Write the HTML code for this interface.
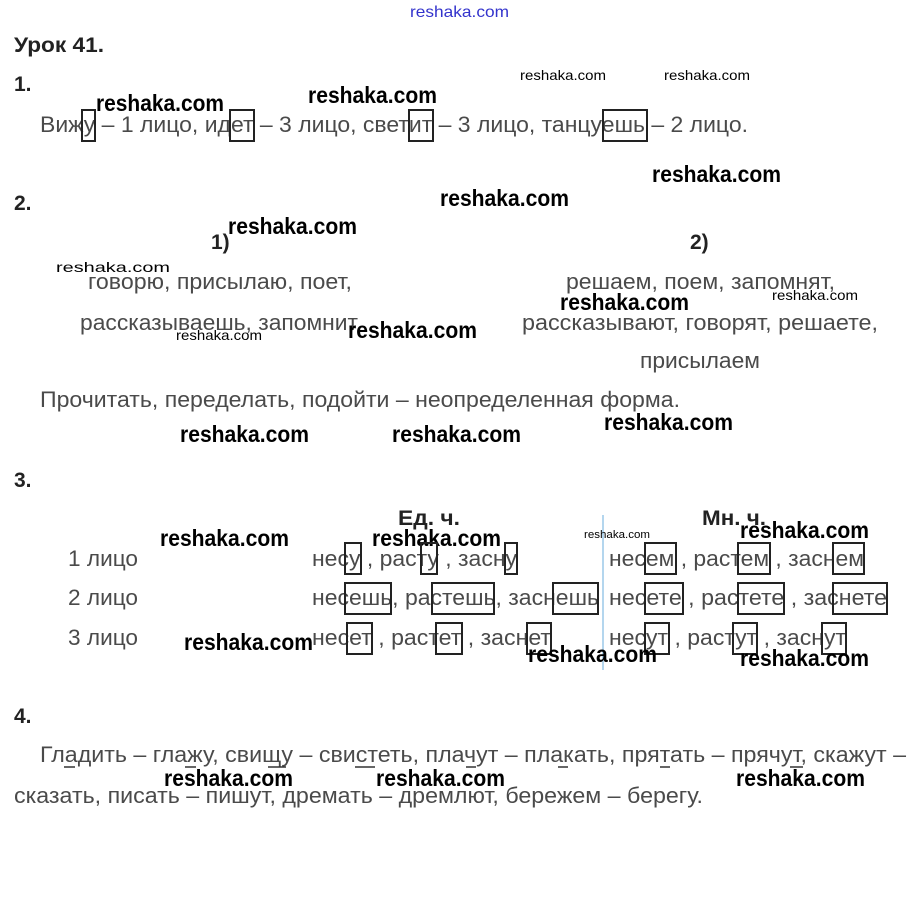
<!DOCTYPE html>
<html><head><meta charset="utf-8"><style>
html,body{margin:0;padding:0;background:#fff;}
svg{display:block;}
.t{font-family:"Liberation Sans",sans-serif;font-size:22px;fill:#4a4a4a;}
.w{font-family:"Liberation Sans",sans-serif;font-size:23px;font-weight:bold;fill:#000;}
.s{font-family:"Liberation Sans",sans-serif;font-size:14px;fill:#000;}
.h{font-family:"Liberation Sans",sans-serif;font-size:21px;font-weight:bold;fill:#222;}
rect{fill:none;stroke:#222;stroke-width:2;}
line.u{stroke:#333;stroke-width:1.5;}
</style></head><body>
<svg width="917" height="923" viewBox="0 0 917 923" xmlns="http://www.w3.org/2000/svg">
<text x="410" y="17" textLength="99" lengthAdjust="spacingAndGlyphs" style="font-family:'Liberation Sans',sans-serif;font-size:16px;fill:#3333cc">reshaka.com</text>
<text class="h" x="14" y="52" textLength="90" lengthAdjust="spacingAndGlyphs">Урок 41.</text>
<text class="h" x="14" y="91">1.</text>
<text class="s" x="520" y="80" textLength="86" lengthAdjust="spacingAndGlyphs">reshaka.com</text>
<text class="s" x="664" y="80" textLength="86" lengthAdjust="spacingAndGlyphs">reshaka.com</text>
<text class="w" x="308" y="103" textLength="129" lengthAdjust="spacingAndGlyphs">reshaka.com</text>
<text class="w" x="96" y="111" textLength="128" lengthAdjust="spacingAndGlyphs">reshaka.com</text>
<text class="t" x="40" y="132" textLength="708" lengthAdjust="spacingAndGlyphs">Вижу – 1 лицо, идет – 3 лицо, светит – 3 лицо, танцуешь – 2 лицо.</text>
<rect x="82" y="110" width="13" height="31"/><rect x="230" y="110" width="24" height="31"/><rect x="409" y="110" width="24" height="31"/><rect x="603" y="110" width="44" height="31"/>

<text class="w" x="652" y="182" textLength="129" lengthAdjust="spacingAndGlyphs">reshaka.com</text>
<text class="h" x="14" y="210">2.</text>
<text class="w" x="440" y="206" textLength="129" lengthAdjust="spacingAndGlyphs">reshaka.com</text>
<text class="w" x="228" y="234" textLength="129" lengthAdjust="spacingAndGlyphs">reshaka.com</text>
<text class="h" x="211" y="249">1)</text>
<text class="h" x="690" y="249">2)</text>
<text class="s" x="56" y="272" textLength="114" lengthAdjust="spacingAndGlyphs">reshaka.com</text>
<text class="t" x="88" y="289" textLength="264" lengthAdjust="spacingAndGlyphs">говорю, присылаю, поет,</text>
<text class="t" x="566" y="289" textLength="269" lengthAdjust="spacingAndGlyphs">решаем, поем, запомнят,</text>
<text class="s" x="772" y="300" textLength="86" lengthAdjust="spacingAndGlyphs">reshaka.com</text>
<text class="w" x="560" y="310" textLength="129" lengthAdjust="spacingAndGlyphs">reshaka.com</text>
<text class="t" x="80" y="330" textLength="278" lengthAdjust="spacingAndGlyphs">рассказываешь, запомнит</text>
<text class="t" x="522" y="330" textLength="356" lengthAdjust="spacingAndGlyphs">рассказывают, говорят, решаете,</text>
<text class="w" x="348" y="338" textLength="129" lengthAdjust="spacingAndGlyphs">reshaka.com</text>
<text class="s" x="176" y="340" textLength="86" lengthAdjust="spacingAndGlyphs">reshaka.com</text>
<text class="t" x="640" y="368" textLength="120" lengthAdjust="spacingAndGlyphs">присылаем</text>
<text class="t" x="40" y="407" textLength="640" lengthAdjust="spacingAndGlyphs">Прочитать, переделать, подойти – неопределенная форма.</text>
<text class="w" x="604" y="430" textLength="129" lengthAdjust="spacingAndGlyphs">reshaka.com</text>
<text class="w" x="180" y="442" textLength="129" lengthAdjust="spacingAndGlyphs">reshaka.com</text>
<text class="w" x="392" y="442" textLength="129" lengthAdjust="spacingAndGlyphs">reshaka.com</text>

<text class="h" x="14" y="487">3.</text>
<text class="h" x="398" y="525" textLength="62" lengthAdjust="spacingAndGlyphs">Ед. ч.</text>
<text class="h" x="702" y="525" textLength="64" lengthAdjust="spacingAndGlyphs">Мн. ч.</text>
<line x1="603" y1="515" x2="603" y2="670" stroke="#9cc8e8" stroke-width="1.5"/>
<text class="s" x="584" y="538" textLength="66" lengthAdjust="spacingAndGlyphs" style="font-size:11px">reshaka.com</text>
<text class="w" x="740" y="538" textLength="129" lengthAdjust="spacingAndGlyphs">reshaka.com</text>
<text class="w" x="160" y="546" textLength="129" lengthAdjust="spacingAndGlyphs">reshaka.com</text>
<text class="w" x="372" y="546" textLength="129" lengthAdjust="spacingAndGlyphs">reshaka.com</text>
<text class="t" x="68" y="566" textLength="70" lengthAdjust="spacingAndGlyphs">1 лицо</text>
<text class="t" x="68" y="605" textLength="70" lengthAdjust="spacingAndGlyphs">2 лицо</text>
<text class="t" x="68" y="645" textLength="70" lengthAdjust="spacingAndGlyphs">3 лицо</text>
<text class="t" x="312" y="566" textLength="205" lengthAdjust="spacingAndGlyphs">несу , расту , засну</text>
<text class="t" x="312" y="605" textLength="287" lengthAdjust="spacingAndGlyphs">несешь, растешь, заснешь</text>
<text class="t" x="312" y="645" textLength="239" lengthAdjust="spacingAndGlyphs">несет , растет , заснет</text>
<text class="t" x="609" y="566" textLength="255" lengthAdjust="spacingAndGlyphs">несем , растем , заснем</text>
<text class="t" x="609" y="605" textLength="278" lengthAdjust="spacingAndGlyphs">несете , растете , заснете</text>
<text class="t" x="609" y="645" textLength="237" lengthAdjust="spacingAndGlyphs">несут , растут , заснут</text>
<rect x="345" y="543" width="16" height="31"/><rect x="421" y="543" width="16" height="31"/><rect x="505" y="543" width="12" height="31"/>
<rect x="645" y="543" width="31" height="31"/><rect x="738" y="543" width="32" height="31"/><rect x="833" y="543" width="31" height="31"/>
<rect x="345" y="583" width="46" height="31"/><rect x="432" y="583" width="62" height="31"/><rect x="553" y="583" width="45" height="31"/>
<rect x="645" y="583" width="38" height="31"/><rect x="738" y="583" width="46" height="31"/><rect x="833" y="583" width="54" height="31"/>
<rect x="347" y="623" width="25" height="31"/><rect x="436" y="623" width="26" height="31"/><rect x="527" y="623" width="24" height="31"/>
<rect x="645" y="623" width="24" height="31"/><rect x="733" y="623" width="24" height="31"/><rect x="822" y="623" width="24" height="31"/>
<text class="w" x="184" y="650" textLength="129" lengthAdjust="spacingAndGlyphs">reshaka.com</text>
<text class="w" x="528" y="662" textLength="129" lengthAdjust="spacingAndGlyphs">reshaka.com</text>
<text class="w" x="740" y="666" textLength="129" lengthAdjust="spacingAndGlyphs">reshaka.com</text>

<text class="h" x="14" y="723">4.</text>
<text class="t" x="40" y="762" textLength="866" lengthAdjust="spacingAndGlyphs">Гладить – глажу, свищу – свистеть, плачут – плакать, прятать – прячут, скажут –</text>
<text class="w" x="164" y="786" textLength="129" lengthAdjust="spacingAndGlyphs">reshaka.com</text>
<text class="w" x="376" y="786" textLength="129" lengthAdjust="spacingAndGlyphs">reshaka.com</text>
<text class="w" x="736" y="786" textLength="129" lengthAdjust="spacingAndGlyphs">reshaka.com</text>
<text class="t" x="14" y="803" textLength="689" lengthAdjust="spacingAndGlyphs">сказать, писать – пишут, дремать – дремлют, бережем – берегу.</text>
<line class="u" x1="64" y1="767" x2="75" y2="767"/><line class="u" x1="185" y1="767" x2="196" y2="767"/><line class="u" x1="268" y1="767" x2="286" y2="767"/>
<line class="u" x1="355" y1="767" x2="375" y2="767"/><line class="u" x1="466" y1="767" x2="476" y2="767"/><line class="u" x1="558" y1="767" x2="568" y2="767"/>
<line class="u" x1="660" y1="767" x2="670" y2="767"/><line class="u" x1="790" y1="767" x2="803" y2="767"/>
</svg>
</body></html>
